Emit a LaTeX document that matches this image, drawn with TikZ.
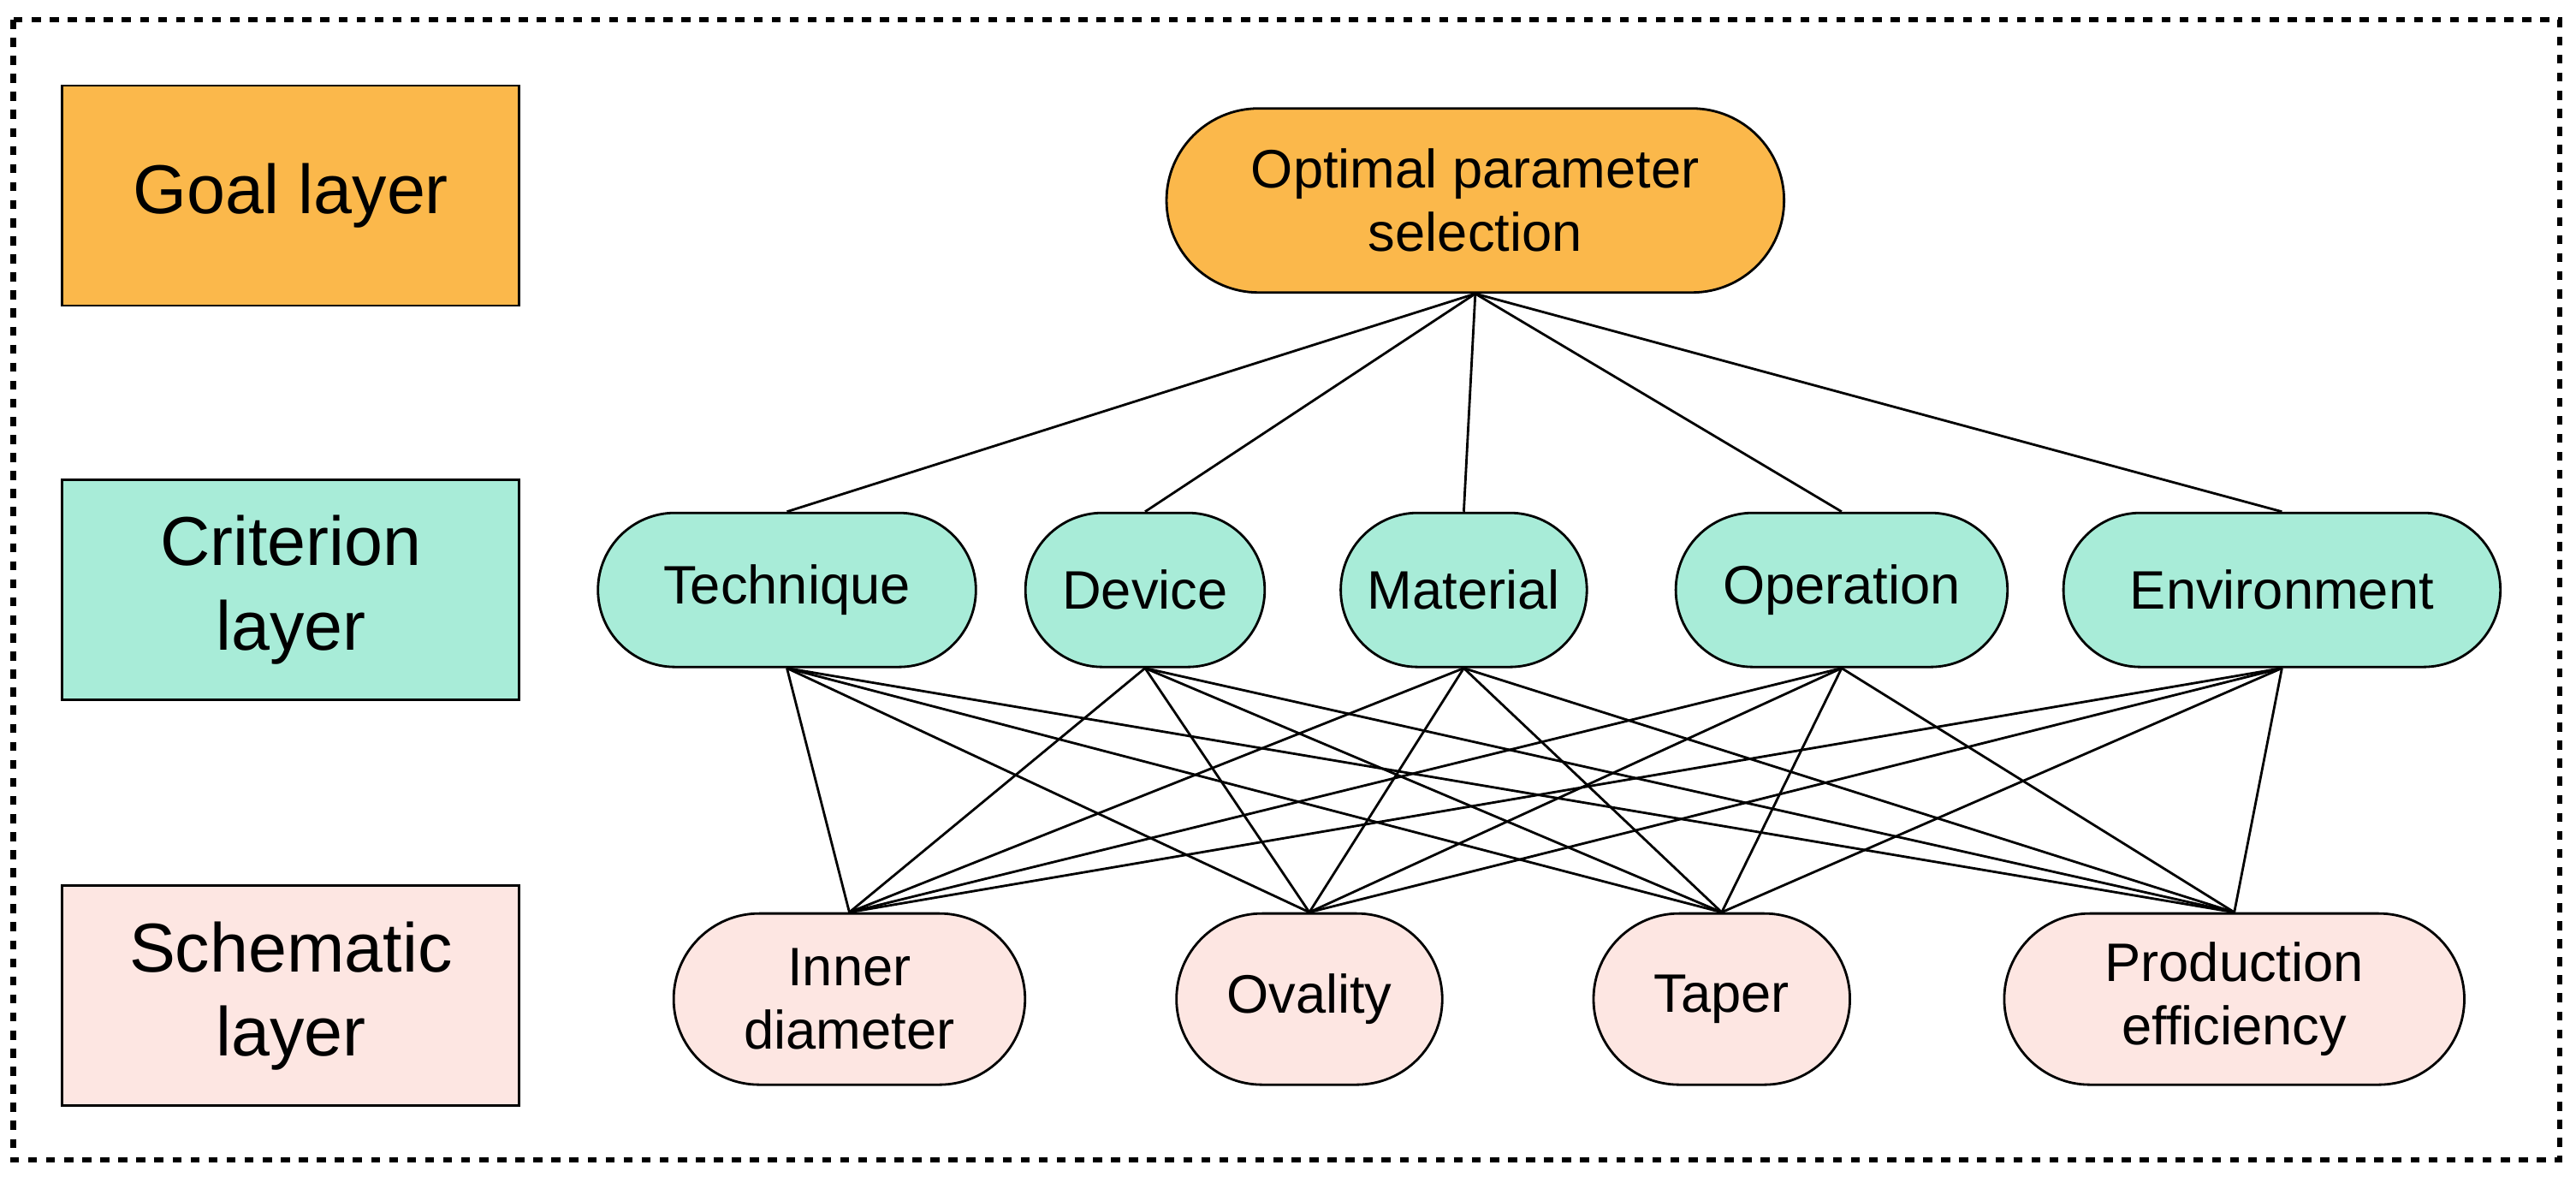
\documentclass[tikz,border=0pt]{standalone}
\usepackage{fontspec}
\setmainfont{Liberation Sans}
\usetikzlibrary{shapes.misc}
\definecolor{goalc}{HTML}{FBB84B}
\definecolor{critc}{HTML}{A8ECD8}
\definecolor{schc}{HTML}{FDE6E2}

\begin{document}
\begin{tikzpicture}[
x = 0.0192cm, y = -0.0192cm,
line width = 0.8pt,
every node/.style = {
	font = \fontsize{18}{21}\selectfont
},
layer/.style = {
	draw,
	minimum width = 5.34cm,
	minimum height = 2.57cm,
	align = center,
	font = \fontsize{23}{28}\selectfont
},
term/.style = {
	draw,
	rounded rectangle,
	align = center
},
crit/.style = {
	term,
	fill = critc,
	minimum height = 1.8cm
},
sch/.style = {
	term,
	fill = schc,
	minimum height = 2cm
}
]
\useasboundingbox (0,0) rectangle (1568,716);
\draw[dashed, line width=1.8pt] (8,12) rectangle (1558,706);

\node (goal_l) [layer, fill=goalc] at (177,119) {Goal layer};
\node (crit_l) [layer, fill=critc] at (177,359) {Criterion\\layer};
\node (sch_l) [layer, fill=schc] at (177,606) {Schematic\\layer};

\node (goal) [term, fill=goalc, minimum width=7.45cm, minimum height=2.15cm] at (898,122) {Optimal parameter\\selection};

\node (technique) [crit, minimum width=4.65cm] at (479,359) {Technique};
\node (device) [crit, minimum width=3.03cm] at (697,359) {Device};
\node (material) [crit, minimum width=3.11cm] at (891,359) {Material};
\node (operation) [crit, minimum width=4.11cm] at (1121,359) {Operation};
\node (environment) [crit, minimum width=5.34cm] at (1389,359) {Environment};

\node (inner) [sch, minimum width=4.34cm] at (517,608) {Inner\\diameter};
\node (ovality) [sch, minimum width=3.34cm] at (797,608) {Ovality};
\node (taper) [sch, minimum width=3.23cm] at (1048,608) {Taper};
\node (efficiency) [sch, minimum width=5.61cm] at (1360,608) {Production\\efficiency};

\foreach \c in {technique,device,material,operation,environment} {
	\draw (goal.south) -- (\c.north);
	\foreach \s in {inner,ovality,taper,efficiency}
		\draw (\c.south) -- (\s.north);
}
\end{tikzpicture}
\end{document}
